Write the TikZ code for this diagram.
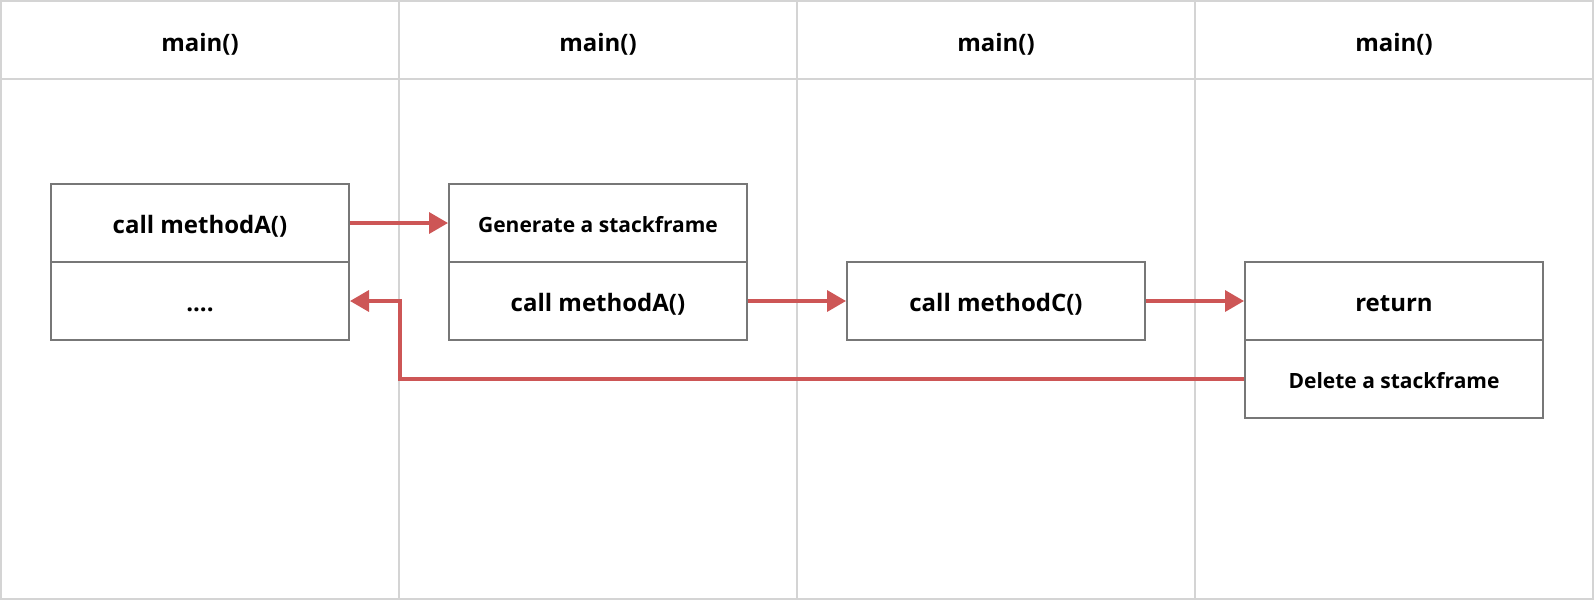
\documentclass[tikz,border=0pt]{standalone}
\usepackage{fontspec}
\setmainfont{Open Sans}
\usetikzlibrary{arrows.meta}
\definecolor{gridc}{HTML}{D4D4D4}
\definecolor{boxc}{HTML}{777777}
\definecolor{redc}{HTML}{CD5656}
\tikzset{
  cell/.style={draw=boxc, line width=2pt, minimum width=298pt, minimum height=78pt, inner sep=0pt, text height=20pt, text depth=0pt, font=\bfseries\fontsize{24}{28}\selectfont},
  smallcell/.style={cell, font=\bfseries\fontsize{21}{25}\selectfont, text height=19pt},
  head/.style={font=\bfseries\fontsize{24}{28}\selectfont, inner sep=0pt, text height=20pt, text depth=0pt},
  flow/.style={draw=redc, line width=3.5pt, -{Triangle[length=19pt,width=21pt]}},
  grid/.style={draw=gridc, line width=2pt}
}
\begin{document}
\begin{tikzpicture}[x=1pt,y=-1pt]
\useasboundingbox (0,0) rectangle (1594,600);
\fill[white] (0,0) rectangle (1594,600);
% frame
\draw[grid] (1,1) rectangle (1593,599);
\draw[grid] (1,79) -- (1593,79);
\draw[grid] (399,1) -- (399,599);
\draw[grid] (797,1) -- (797,599);
\draw[grid] (1195,1) -- (1195,599);
% headers
\node[head] (h1) at (200,41.5) {main()};
\node[head] (h2) at (598,41.5) {main()};
\node[head] (h3) at (996,41.5) {main()};
\node[head] (h4) at (1394,41.5) {main()};
% boxes
\node[cell] (a1) at (200,223) {call methodA()};
\node[cell] (a2) at (200,301) {....};
\node[smallcell] (b1) at (598,223) {Generate a stackframe};
\node[cell] (b2) at (598,301) {call methodA()};
\node[cell] (c1) at (996,301) {call methodC()};
\node[cell] (d1) at (1394,301) {return};
\node[smallcell] (d2) at (1394,379) {Delete a stackframe};
% arrows
\coordinate (r) at (400,379);
\draw[flow] (a1.east) -- (b1.west);
\draw[flow] (b2.east) -- (c1.west);
\draw[flow] (c1.east) -- (d1.west);
\draw[flow] (d2.west) -- (r) |- (a2.east);
\end{tikzpicture}
\end{document}
